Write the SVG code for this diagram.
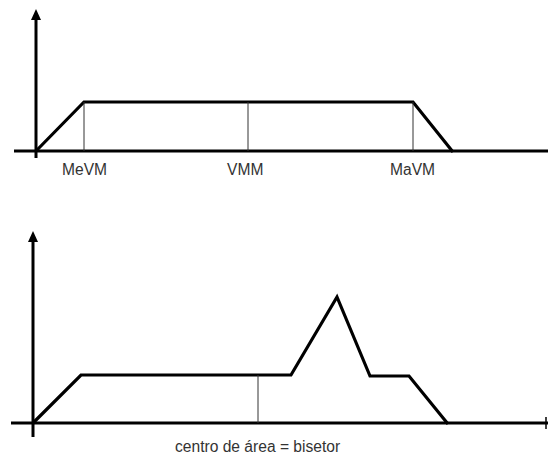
<svg xmlns="http://www.w3.org/2000/svg" width="548" height="456" viewBox="0 0 548 456">
<style>
.axis{stroke:#000;stroke-width:3;fill:none}
.curve{stroke:#000;stroke-width:3.2;fill:none;stroke-linejoin:miter}
.thin{stroke:#333;stroke-width:1;fill:none}
.lbl{font-family:"Liberation Sans",Arial,sans-serif;font-size:15.6px;fill:#333}
.head{fill:#000}
</style>
<rect width="548" height="456" fill="#fff"/>
<g id="top-chart">
  <g id="top-axes">
    <line class="axis" x1="36" y1="18" x2="36" y2="158"/>
    <polygon class="head" points="36,9 31,20 41,20"/>
    <line class="axis" x1="14" y1="151" x2="548" y2="151"/>
  </g>
  <g id="top-curve">
    <polyline class="curve" points="36,151 84,102 413,102 453,152"/>
  </g>
  <g id="top-markers">
    <line class="thin" x1="84" y1="102" x2="84" y2="151"/>
    <line class="thin" x1="248" y1="102" x2="248" y2="151"/>
    <line class="thin" x1="413" y1="102" x2="413" y2="151"/>
  </g>
  <g id="top-labels">
    <text class="lbl" x="62" y="175">MeVM</text>
    <text class="lbl" x="227" y="175">VMM</text>
    <text class="lbl" x="390" y="175">MaVM</text>
  </g>
</g>
<g id="bottom-chart">
  <g id="bottom-axes">
    <line class="axis" x1="33" y1="240" x2="33" y2="437"/>
    <polygon class="head" points="33,231 28,242 38,242"/>
    <line class="axis" x1="11" y1="423" x2="548" y2="423"/>
    <line stroke="#000" stroke-width="1.5" x1="546" y1="417" x2="546" y2="429"/>
  </g>
  <g id="bottom-curve">
    <polyline class="curve" points="33,423 81,375 291,375 337,297 370,376 409,376 448,424"/>
  </g>
  <g id="bottom-marker">
    <line class="thin" x1="258" y1="375" x2="258" y2="423"/>
  </g>
  <g id="bottom-label">
    <text class="lbl" x="175" y="452">centro de área = bisetor</text>
  </g>
</g>
</svg>
